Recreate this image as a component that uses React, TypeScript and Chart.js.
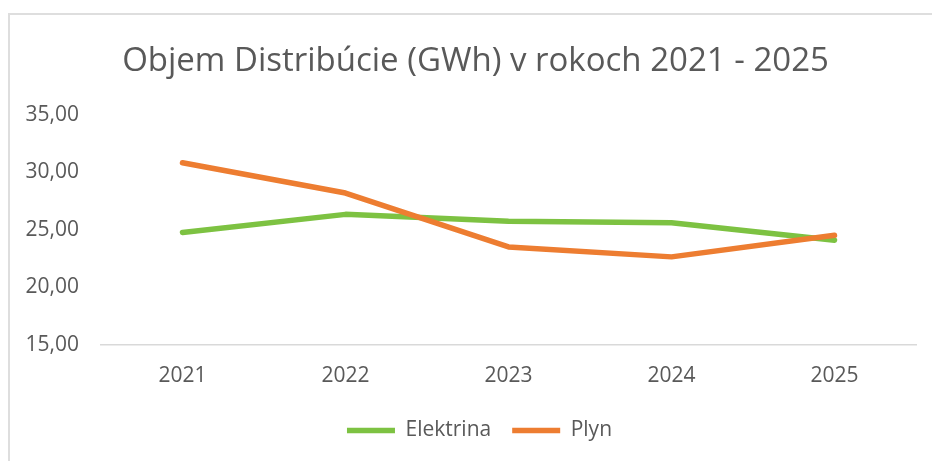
import React, { useEffect, useRef } from "react";
import { Chart, registerables } from "chart.js";

Chart.register(...registerables);

const categories = ["2021", "2022", "2023", "2024", "2025"];
const elektrina = [24.76, 26.34, 25.74, 25.62, 24.09];
const plyn = [30.82, 28.19, 23.51, 22.65, 24.52];
const seriesNames = ["Elektrina", "Plyn"];
const titleText = "Objem Distribúcie (GWh) v rokoch 2021 - 2025";
const yMin = 15;
const yMax = 35;
const yStep = 5;

const GREEN = "#7DC242";
const ORANGE = "#ED7D31";
const TEXT = "#595959";
const FONT = "'Open Sans', sans-serif";

const boxShift = {
  id: "boxShift",
  afterLayout(chart: any) {
    if (chart.legend) {
      chart.legend.left += 14;
      chart.legend.right += 14;
    }
    if (chart.titleBlock) {
      chart.titleBlock.left += 10;
      chart.titleBlock.right += 10;
    }
  },
};

export default function App() {
  const ref = useRef<HTMLCanvasElement | null>(null);

  useEffect(() => {
    if (!ref.current) return;
    const chart = new Chart(ref.current, {
      type: "line",
      data: {
        labels: categories,
        datasets: [
          {
            label: seriesNames[0],
            data: elektrina,
            borderColor: GREEN,
            backgroundColor: GREEN,
            borderWidth: 5.5,
            pointRadius: 0,
            borderCapStyle: "round",
            borderJoinStyle: "round",
            order: 1,
          },
          {
            label: seriesNames[1],
            data: plyn,
            borderColor: ORANGE,
            backgroundColor: ORANGE,
            borderWidth: 5.5,
            pointRadius: 0,
            borderCapStyle: "round",
            borderJoinStyle: "round",
            order: 0,
          },
        ],
      },
      plugins: [boxShift],
      options: {
        animation: false,
        responsive: false,
        maintainAspectRatio: false,
        layout: { padding: { left: 15, right: 16, top: 0, bottom: 10 } },
        plugins: {
          title: {
            display: true,
            text: titleText,
            color: TEXT,
            font: { family: FONT, size: 33, weight: "normal" },
            padding: { top: 42, bottom: 33 },
          },
          legend: {
            position: "bottom",
            labels: {
              color: TEXT,
              font: { family: FONT, size: 21 },
              usePointStyle: true,
              pointStyle: "line",
              pointStyleWidth: 48,
              padding: 21,
              sort: (a: any, b: any) => a.datasetIndex - b.datasetIndex,
            },
          },
          tooltip: { enabled: false },
        },
        scales: {
          x: {
            offset: true,
            grid: { display: false, drawTicks: false },
            border: { display: true, color: "#D9D9D9", width: 1.5 },
            ticks: { color: TEXT, font: { family: FONT, size: 21 }, padding: 18, maxRotation: 0 },
            afterFit: (s: any) => {
              s.height = 54;
            },
          },
          y: {
            min: yMin,
            max: yMax,
            grid: { display: false, drawTicks: false },
            border: { display: false },
            ticks: {
              stepSize: yStep,
              color: TEXT,
              font: { family: FONT, size: 21 },
              padding: 22,
              callback: (v: any) => Number(v).toFixed(2).replace(".", ","),
            },
            afterFit: (s: any) => {
              s.width = 86;
            },
          },
        },
      },
    });
    return () => chart.destroy();
  }, []);

  return (
    <div style={{ position: "fixed", left: 0, top: 0, width: 932, height: 461, overflow: "hidden", background: "#fff" }}>
      <div
        style={{
          position: "absolute",
          left: 8,
          top: 13,
          width: 1200,
          height: 1200,
          border: "2px solid #DEDEDE",
          boxSizing: "border-box",
        }}
      />
      <canvas ref={ref} width={932} height={461} style={{ position: "absolute", left: 0, top: 0 }} />
    </div>
  );
}
